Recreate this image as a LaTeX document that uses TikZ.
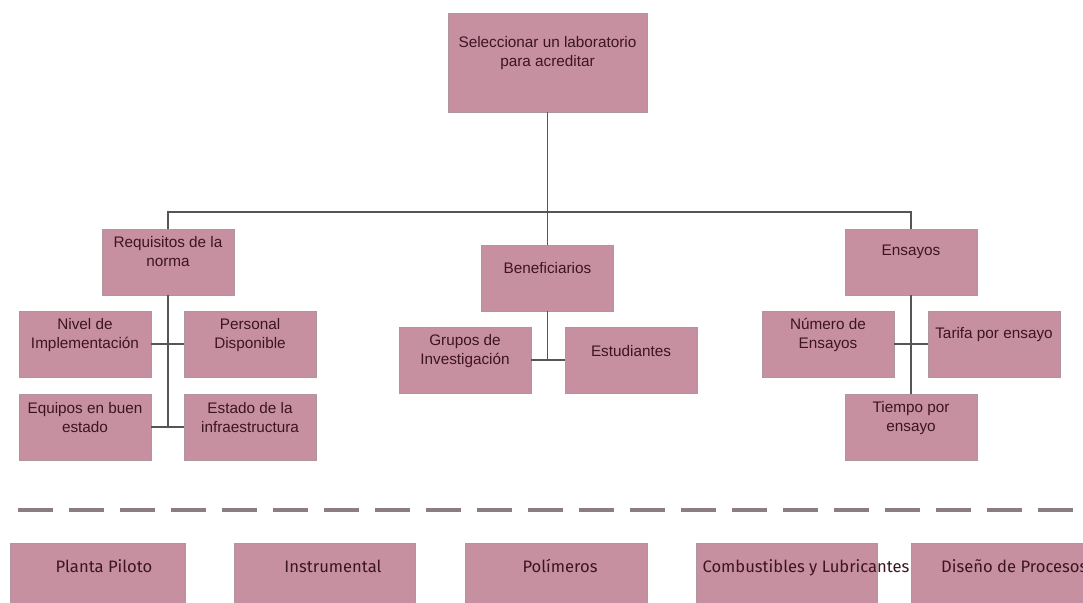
\documentclass[tikz,border=0pt]{standalone}
\usepackage{fontspec}
\setmainfont{Liberation Sans}
\newfontfamily\bottomfont{Fira Sans}
\definecolor{boxfill}{RGB}{199,144,161}
\definecolor{boxline}{RGB}{175,150,158}
\definecolor{txtcol}{RGB}{60,20,35}
\definecolor{conncol}{RGB}{85,85,85}
\definecolor{dashcol}{RGB}{140,125,132}
\tikzset{
  box/.style={rectangle, fill=boxfill, draw=boxline, line width=0.8pt, minimum width=132pt, minimum height=66pt, inner sep=0pt},
  bbox/.style={rectangle, fill=boxfill, draw=boxline, line width=0.8pt, minimum height=80pt, inner sep=0pt},
  txt/.style={align=center, text=txtcol, font=\fontsize{15.3}{19}\selectfont, inner sep=0pt},
  btxt/.style={text=txtcol, font=\bottomfont\fontsize{16.6}{19}\selectfont, inner sep=0pt, anchor=base},
  conn/.style={draw=conncol, line width=1.6pt},
  sep/.style={draw=dashcol, line width=4pt, dash pattern=on 35pt off 16pt}
}
\begin{document}
\begin{tikzpicture}[x=1pt,y=-1pt]
\useasboundingbox (0,0) rectangle (1083,602);
\clip (0,0) rectangle (1083,602);
\fill[white] (0,0) rectangle (1083,602);
% boxes
\node[box, minimum width=199pt, minimum height=99pt] (top) at (547.5,62.5) {};
\node[box] (req) at (168,262) {};
\node[box] (ben) at (547.5,278) {};
\node[box] (ens) at (911,262) {};
\node[box] (niv) at (85,344) {};
\node[box] (per) at (250,344) {};
\node[box] (equ) at (85,427) {};
\node[box] (est) at (250,427) {};
\node[box] (gru) at (465,360) {};
\node[box] (stu) at (631,360) {};
\node[box] (num) at (828,344) {};
\node[box] (tar) at (994,344) {};
\node[box] (tie) at (911,427) {};
% texts
\node[txt] at ([yshift=9.5pt]top.center) {Seleccionar un laboratorio\\para acreditar};
\node[txt] at ([yshift=10pt]req.center) {Requisitos de la\\norma};
\node[txt] at ([yshift=10pt]ben.center) {Beneficiarios};
\node[txt] at ([yshift=10pt]ens.center) {Ensayos};
\node[txt] at ([yshift=9pt]niv.center) {Nivel de\\Implementación};
\node[txt] at ([yshift=9pt]per.center) {Personal\\Disponible};
\node[txt] at ([yshift=9pt]equ.center) {Equipos en buen\\estado};
\node[txt] at ([yshift=9pt]est.center) {Estado de la\\infraestructura};
\node[txt] at ([yshift=9pt]gru.center) {Grupos de\\Investigación};
\node[txt] at ([yshift=9pt]stu.center) {Estudiantes};
\node[txt] at ([yshift=9pt]num.center) {Número de\\Ensayos};
\node[txt] at ([yshift=9pt]tar.center) {Tarifa por ensayo};
\node[txt] at ([yshift=9pt]tie.center) {Tiempo por\\ensayo};
% connectors
\coordinate (hub) at (547.5,212);
\draw[conn] (top.south) -- (hub);
\draw[conn] (req.north) |- (hub) -| (ens.north);
\draw[conn] (hub) -- (ben.north);
\draw[conn] (req.south) -- (req.south |- equ.east);
\draw[conn] (niv.east) -- (per.west);
\draw[conn] (equ.east) -- (est.west);
\draw[conn] (ben.south) -- (ben.south |- gru.east);
\draw[conn] (gru.east) -- (stu.west);
\draw[conn] (ens.south) -- (tie.north);
\draw[conn] (num.east) -- (tar.west);
% separator
\coordinate (dl) at (18,510);
\coordinate (dr) at (1090,510);
\draw[sep] (dl) -- (dr);
% bottom boxes
\node[bbox, minimum width=175pt] (pla) at (97.5,583) {};
\node[bbox, minimum width=181pt] (ins) at (325,583) {};
\node[bbox, minimum width=182pt] (pol) at (556,583) {};
\node[bbox, minimum width=181pt] (com) at (787,583) {};
\node[bbox, minimum width=182pt] (dis) at (1002,583) {};
\node[btxt] at (104,572) {Planta Piloto};
\node[btxt] at (333,572) {Instrumental};
\node[btxt] at (560,572) {Polímeros};
\node[btxt] at (806,572) {Combustibles y Lubricantes};
\node[btxt, anchor=base west] at (941,572) {Diseño de Procesos};
\end{tikzpicture}
\end{document}
